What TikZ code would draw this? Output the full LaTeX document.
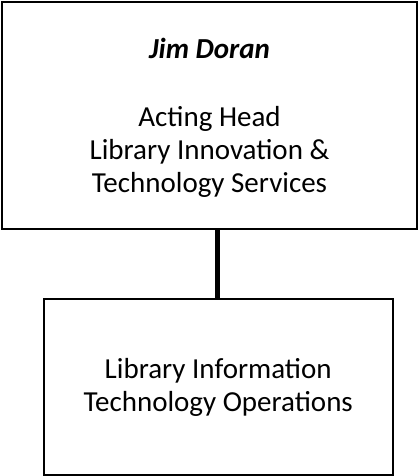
\documentclass[tikz,border=0pt]{standalone}
\usepackage{fontspec}
\setmainfont{Carlito}
\usetikzlibrary{positioning}
\tikzset{
    x=1pt, y=-1pt,
    unitbox/.style={draw=black, line width=2pt, align=center, inner sep=0pt,
        font=\fontsize{29}{33}\selectfont}, % boxes of the chart
    link/.style={line width=5pt} % line between the boxes
}
\begin{document}
\begin{tikzpicture}
    \useasboundingbox (0,0) rectangle (419,476);
    % Boxes
    \node[unitbox, minimum width=414.5pt, minimum height=227pt] (head) at (209.5,115.3)
        {\rule{0pt}{26pt}\textbf{\textit{Jim Doran}}\\[35pt]Acting Head\\Library Innovation \&\\Technology Services};
    \node[unitbox, minimum width=349pt, minimum height=175.5pt] (ops) at (218.2,387)
        {Library Information\\Technology Operations};
    % Connector
    \draw[link] (head.south -| 217.5,0) -- (ops.north -| 217.5,0);
\end{tikzpicture}
\end{document}
